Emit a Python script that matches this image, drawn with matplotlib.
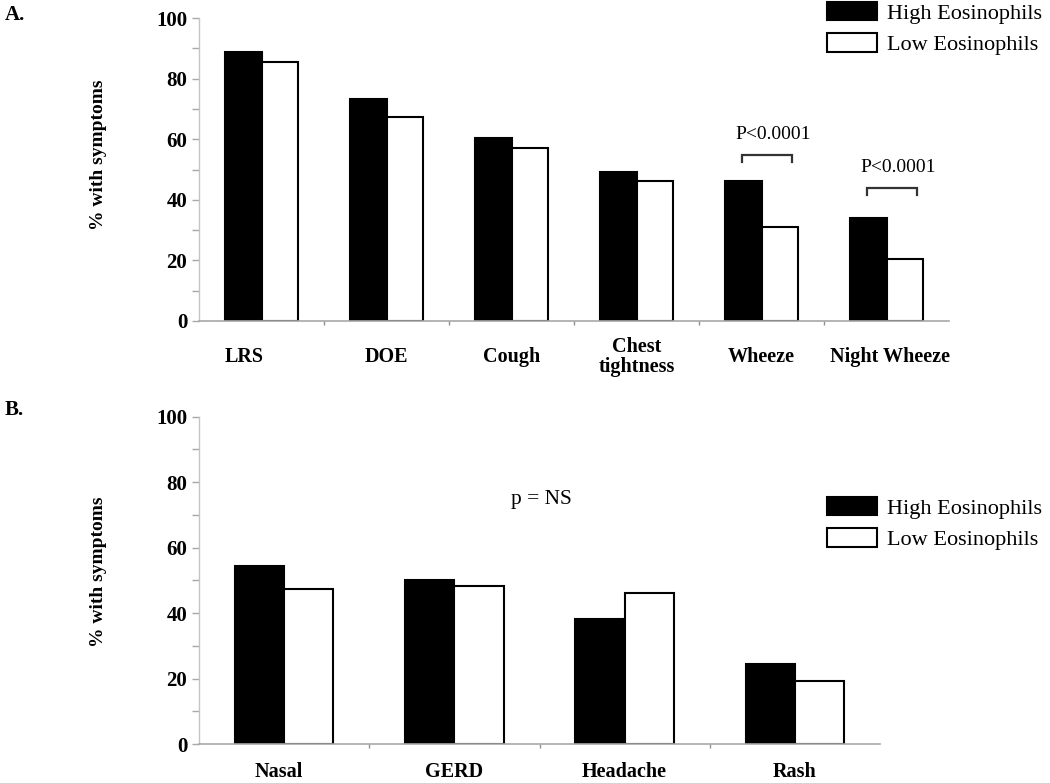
import matplotlib
matplotlib.use('Agg')
import matplotlib.pyplot as plt
import numpy as np

# --- Шрифт: Times-сумісний ---
matplotlib.rcParams['font.family'] = 'Liberation Serif'
matplotlib.rcParams['font.size'] = 14

# ==== Дані ====
cats_a = ['LRS', 'DOE', 'Cough', 'Chest\ntightness', 'Wheeze', 'Night Wheeze']
high_a = [88.9, 73.2, 60.5, 49.3, 46.2, 34.0]
low_a = [85.4, 67.4, 57.2, 46.2, 31.0, 20.4]
sig_idx_a = [4, 5]
sig_text_a = ['P<0.0001', 'P<0.0001']
sig_y_a = [54.8, 43.9]

cats_b = ['Nasal', 'GERD', 'Headache', 'Rash']
high_b = [54.5, 50.2, 38.2, 24.5]
low_b = [47.3, 48.2, 46.2, 19.1]
note_b = 'p = NS'

series_names = ['High Eosinophils', 'Low Eosinophils']

W, H = 1050, 783
fig = plt.figure(figsize=(W / 100, H / 100), dpi=100)

ax_a = fig.add_axes([199 / W, 1 - 321 / H, 750 / W, 303 / H])
ax_b = fig.add_axes([199 / W, 1 - 744 / H, 681 / W, 327.3 / H])

bw = 0.29


def draw_panel(ax, cats, high, low, lab_y, lab_dx):
    x = np.arange(len(cats))
    b1 = ax.bar(x - bw / 2, high, bw, color='black', edgecolor='black', linewidth=1.5, label=series_names[0])
    b2 = ax.bar(x + bw / 2, low, bw, color='white', edgecolor='black', linewidth=1.5, label=series_names[1])
    ax.set_xlim(-0.5, len(cats) - 0.5)
    ax.set_ylim(0, 100)
    ax.set_yticks(np.arange(0, 101, 20))
    ax.set_yticks(np.arange(10, 100, 20), minor=True)
    ax.set_yticklabels([str(v) for v in range(0, 101, 20)], fontweight='bold', fontsize=15)
    ax.tick_params(axis='y', which='both', direction='out', length=5, width=1, color='#a8a8a8', pad=3.5)
    ax.set_xticks(np.arange(0.5, len(cats) - 0.5))
    ax.set_xticklabels([])
    ax.tick_params(axis='x', direction='out', length=3, width=1, color='#909090')
    for s in ['top', 'right']:
        ax.spines[s].set_visible(False)
    ax.spines['left'].set_color('#c4c4c4')
    ax.spines['bottom'].set_color('#a8a8a8')
    ax.spines['left'].set_linewidth(1)
    ax.spines['bottom'].set_linewidth(1.2)
    for i, c in enumerate(cats):
        ax.text(i + lab_dx[i], lab_y, c, transform=ax.get_xaxis_transform(), ha='center', va='center',
                fontweight='bold', fontsize=14.5, linespacing=1.0)
    ax.set_ylabel('% with symptoms', fontweight='bold', fontsize=14)
    return b1, b2


draw_panel(ax_a, cats_a, high_a, low_a, -0.119, [-0.14, 0, 0, 0, 0, 0.03])
draw_panel(ax_b, cats_b, high_b, low_b, -0.085, [-0.03, 0, 0, 0])
ax_a.yaxis.set_label_coords(-0.1227, 0.548)
ax_b.yaxis.set_label_coords(-0.135, 0.526)

# скобки значущості
for i, t, y in zip(sig_idx_a, sig_text_a, sig_y_a):
    ax_a.plot([i - 0.155, i - 0.155, i + 0.245, i + 0.245], [y - 2.3, y, y, y - 2.3],
              color='#333333', linewidth=1.6, solid_joinstyle='miter')
    ax_a.text(i + 0.095, y + 6.6, t, ha='center', va='center', fontsize=14)

ax_b.text(1.51, 74.6, note_b, ha='center', va='center', fontsize=15.5)

# легенди
for ax, top in [(ax_a, 2), (ax_b, 497)]:
    ax.legend(loc='upper left', bbox_to_anchor=(827 / W, 1 - top / H), bbox_transform=fig.transFigure,
              frameon=False, fontsize=16, handlelength=2.25, handleheight=0.9, handletextpad=0.45,
              borderpad=0, borderaxespad=0, labelspacing=0.42)

fig.text(5 / W, 1 - 15 / H, 'A.', fontweight='bold', fontsize=15, va='center', ha='left')
fig.text(5 / W, 1 - 410 / H, 'B.', fontweight='bold', fontsize=15, va='center', ha='left')

fig.savefig('out.png', dpi=100)
